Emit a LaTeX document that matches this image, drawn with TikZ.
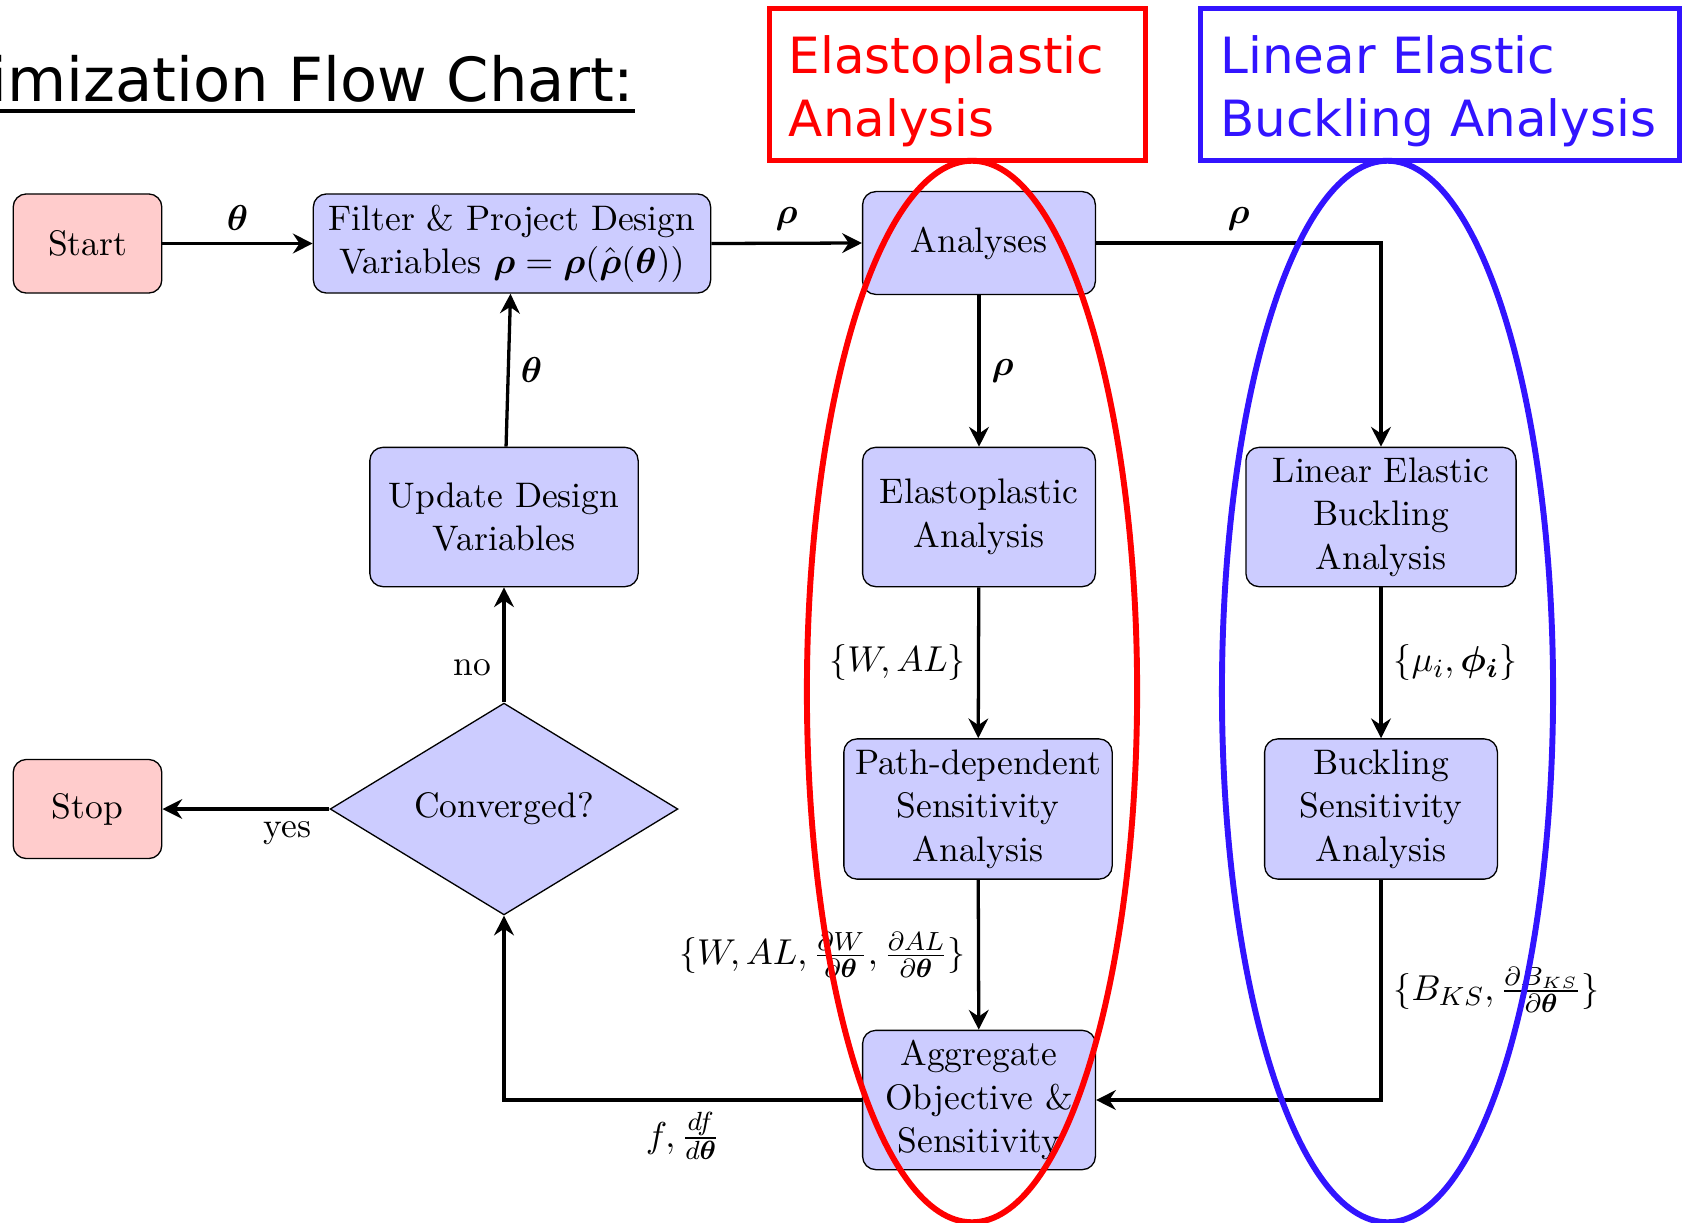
\documentclass[tikz,border=0pt]{standalone}
\usepackage{amsmath}
\usepackage{fontspec}
\newfontfamily\handfont{DejaVu Sans}
\usetikzlibrary{shapes.geometric,arrows.meta}
\definecolor{elred}{RGB}{255,0,0}
\definecolor{bkblue}{RGB}{50,20,255}

\begin{document}
\begin{tikzpicture}[x=0.010702cm, y=-0.010702cm,
  every node/.style={align=center, font=\fontsize{10.8}{13.2}\selectfont},
  block/.style={draw, rounded corners, fill=blue!20, minimum width=2.49cm, minimum height=1.49cm, inner sep=2pt},
  term/.style={draw, rounded corners, fill=red!20, minimum width=1.59cm, minimum height=1.06cm},
  decision/.style={draw, diamond, fill=blue!20, minimum width=3.72cm, minimum height=2.19cm, inner sep=0pt},
  arr/.style={-{Stealth[length=6pt,width=6pt,inset=2pt]}, line width=1pt},
  tag/.style={draw, line width=1.5pt, minimum height=1.62cm, inner xsep=6pt, inner ysep=3pt, align=left, font=\handfont\fontsize{15.2}{19.3}\selectfont}]
\useasboundingbox (0,0) rectangle (1682,1222);

\node[anchor=base east, inner sep=0pt, font=\handfont\fontsize{18.5}{22}\selectfont] (title) at (635,101) {Optimization Flow Chart:};
\draw[line width=1.2pt] ([yshift=-3pt]title.base west) -- ([yshift=-3pt]title.base east);

\node[tag, draw=elred, text=elred, minimum width=4.03cm, text width=3.608cm] (eltag) at (957.5,84.5) {\rule{0pt}{15.8pt}Elastoplastic\\Analysis};
\node[tag, draw=bkblue, text=bkblue, minimum width=5.12cm, text width=4.698cm] (bktag) at (1440,84.5) {\rule{0pt}{15.8pt}Linear Elastic\\Buckling Analysis};

\node[term] (start) at (87.5,243.5) {Start};
\node[block, minimum width=4.25cm, minimum height=1.06cm] (filter) at (512,243.5) {Filter \& Project Design\\Variables $\boldsymbol{\rho} = \boldsymbol{\rho}(\hat{\boldsymbol{\rho}}(\boldsymbol{\theta}))$};
\node[block, minimum height=1.10cm] (analyses) at (979,243) {Analyses};
\node[block] (elasto) at (979,517) {Elastoplastic\\Analysis};
\node[block, minimum width=2.87cm, minimum height=1.50cm] (pathsens) at (978,809) {Path-dependent\\Sensitivity\\Analysis};
\node[block] (aggregate) at (979,1100) {Aggregate\\Objective \&\\Sensitivity};
\node[block, minimum width=2.89cm] (linear) at (1381,517) {Linear Elastic\\Buckling\\Analysis};
\node[block, minimum height=1.50cm] (bucksens) at (1381,809) {Buckling\\Sensitivity\\Analysis};
\node[block, minimum width=2.87cm] (update) at (504,517) {Update Design\\Variables};
\node[decision] (converged) at (504,809) {Converged?};
\node[term] (stop) at (87.5,809) {Stop};

\draw[arr] (start) -- node[above] {$\boldsymbol{\theta}$} (filter);
\draw[arr] (filter.east) -- node[above] {$\boldsymbol{\rho}$} (analyses.west);
\draw[arr] (analyses.east) -| node[pos=0.25, above] {$\boldsymbol{\rho}$} (linear.north);
\draw[arr] (analyses) -- node[right] {$\boldsymbol{\rho}$} (elasto);
\draw[arr] (elasto) -- node[left] {$\{W, AL\}$} (pathsens);
\draw[arr] (pathsens) -- node[left] {$\{W, AL, \frac{\partial W}{\partial \boldsymbol{\theta}}, \frac{\partial AL}{\partial \boldsymbol{\theta}}\}$} (aggregate);
\draw[arr] (linear) -- node[right] {$\{\mu_i, \boldsymbol{\phi_i}\}$} (bucksens);
\draw[arr] (bucksens.south) |- node[pos=0.25, right] {$\{B_{KS}, \frac{\partial B_{KS}}{\partial \boldsymbol{\theta}}\}$} (aggregate.east);
\draw[arr] (aggregate.west) -| node[pos=0.25, below] {$f, \frac{df}{d\boldsymbol{\theta}}$} (converged.south);
\draw[arr] (converged.north) -- node[pos=0.3, left] {no} (update.south);
\draw[arr] (update) -- node[right] {$\boldsymbol{\theta}$} (filter);
\draw[arr] (converged.west) -- node[pos=0.25, below] {yes} (stop.east);

\draw[elred, line width=1.8pt] (972,691.5) ellipse [x radius=1.766cm, y radius=5.677cm];
\draw[bkblue, line width=1.8pt] (1387.5,691.5) ellipse [x radius=1.771cm, y radius=5.677cm];
\end{tikzpicture}
\end{document}
